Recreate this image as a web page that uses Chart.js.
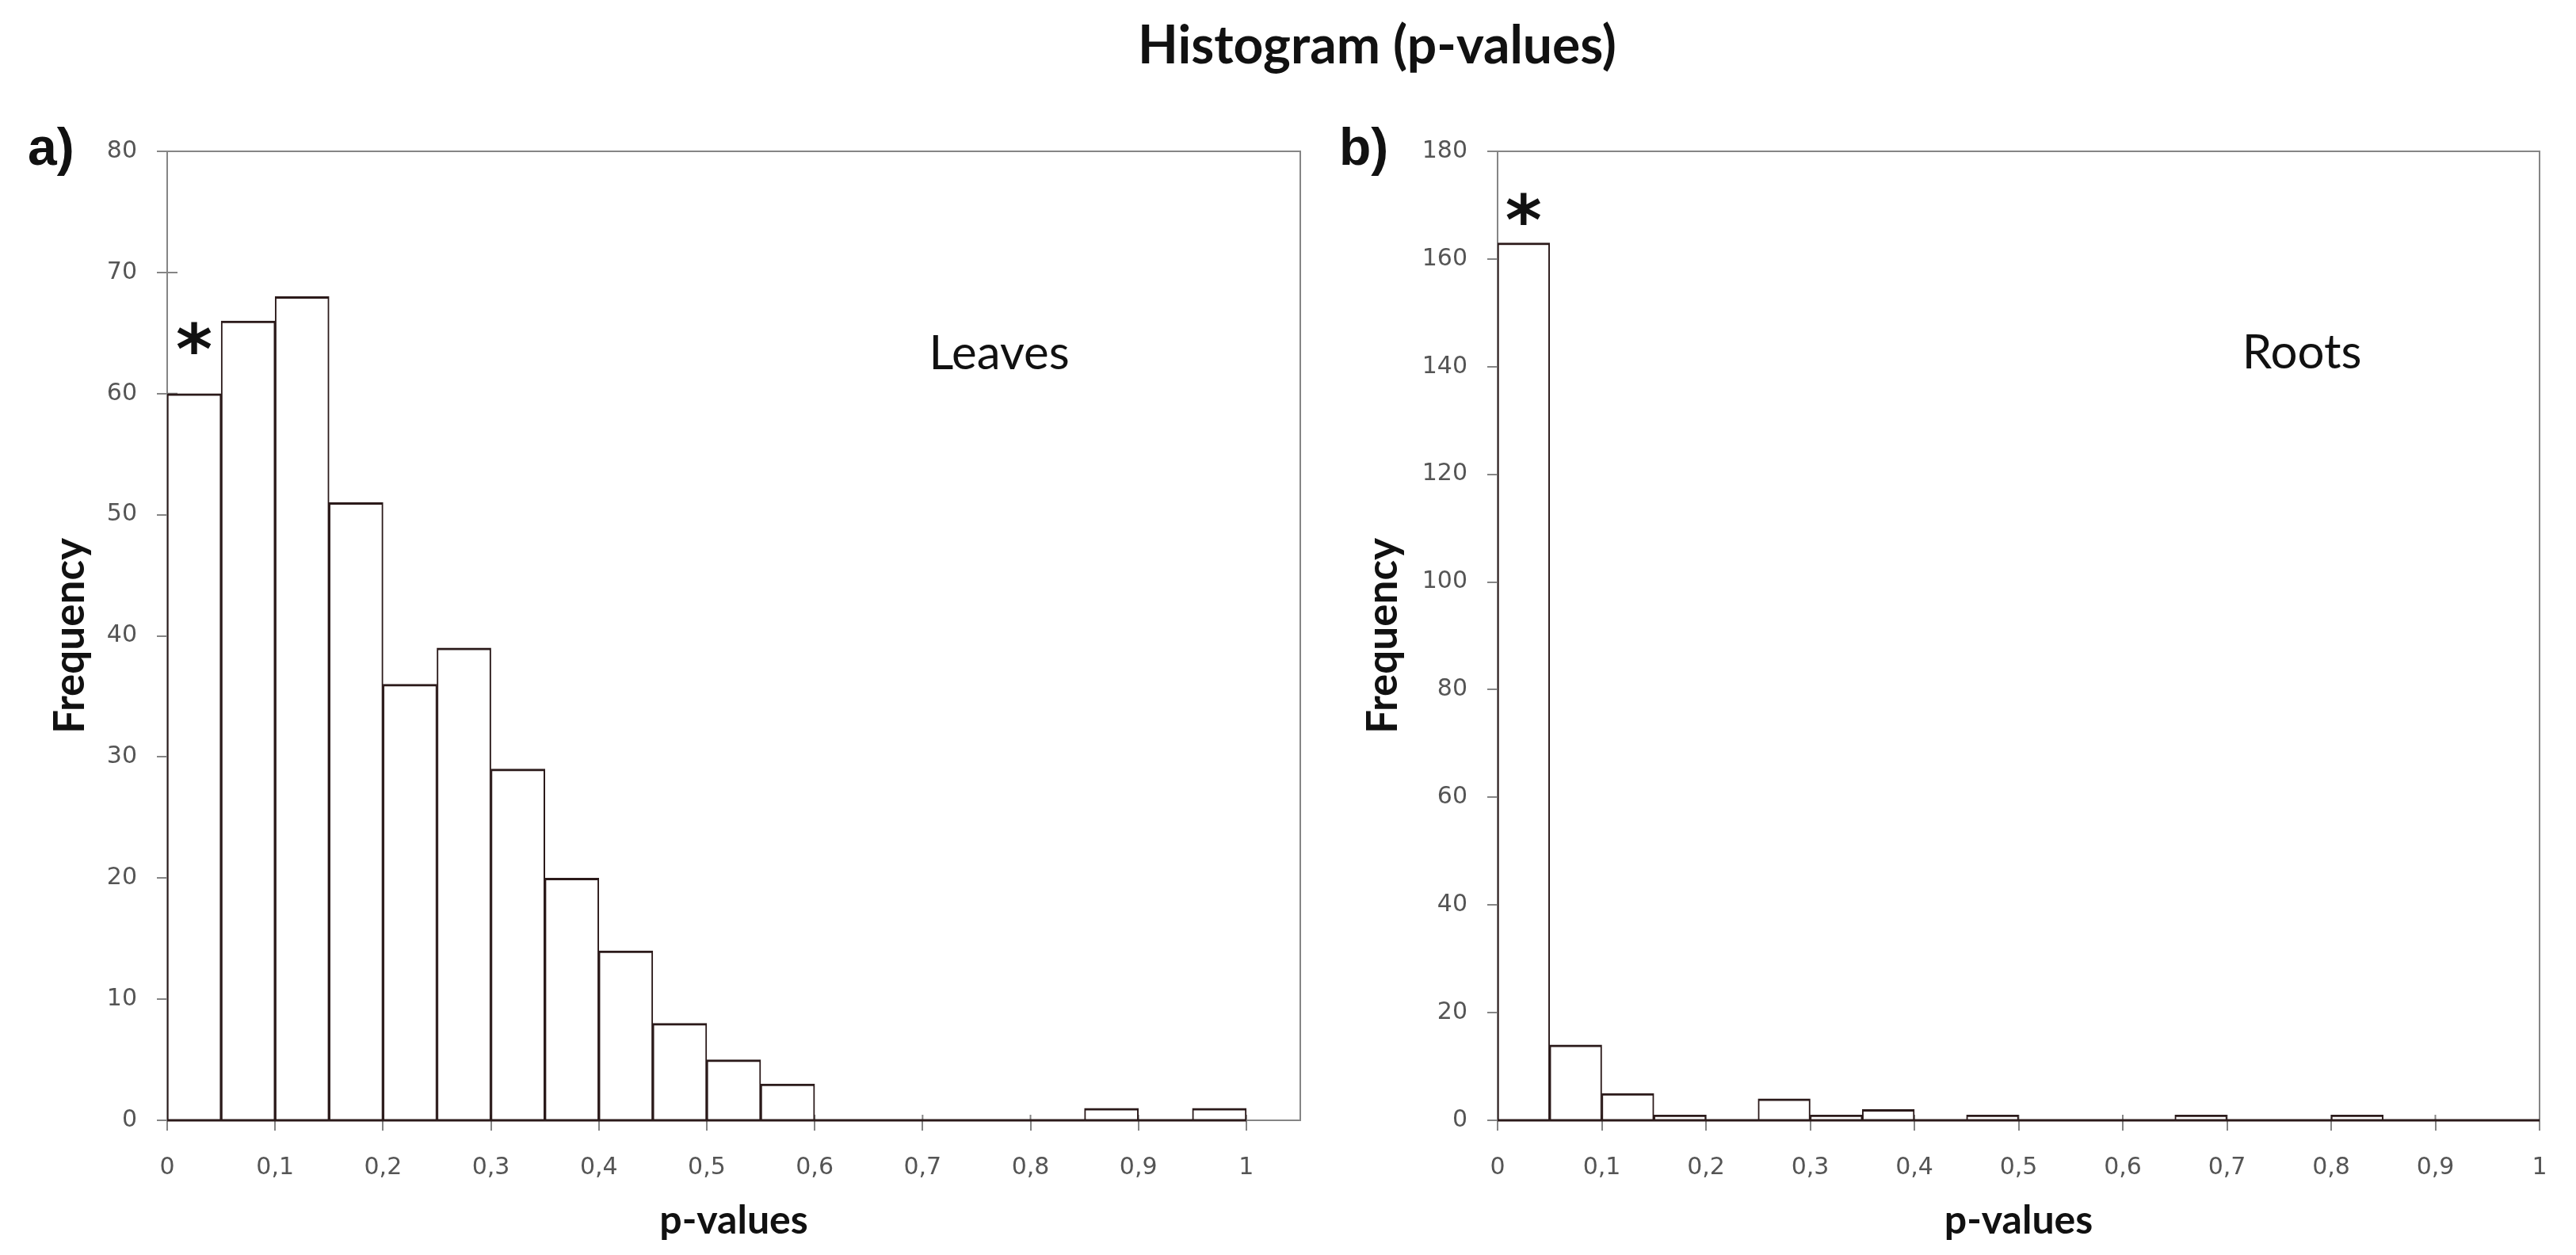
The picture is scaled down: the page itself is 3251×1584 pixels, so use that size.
<!DOCTYPE html>
<html>
<head>
<meta charset="utf-8">
<script src="https://cdn.jsdelivr.net/npm/chart.js@4.4.1/dist/chart.umd.min.js"></script>
<style>
  html, body { margin: 0; padding: 0; background: #fff; }
  #page { position: relative; width: 3251px; height: 1584px; overflow: hidden; background: #fff; }
  .box { position: absolute; top: 0; height: 1584px; }
  #leftBox { left: 0; width: 1660px; }
  #rightBox { left: 1660px; width: 1591px; }
  .mainTitle { position: absolute; left: 1738px; top: 22px; transform: translateX(-50%);
    font-family: Lato, "Open Sans", sans-serif; font-weight: 700; font-size: 66px; line-height: 1;
    white-space: nowrap; color: #111; }
  .panel { position: absolute; top: 152px; font-family: "Liberation Sans", Arial, sans-serif;
    font-weight: 700; font-size: 66px; line-height: 1; color: #111; }
</style>
</head>
<body>
<div id="page">
  <div class="mainTitle">Histogram (p-values)</div>
  <div class="box" id="leftBox"><canvas id="leavesChart"></canvas></div>
  <div class="box" id="rightBox"><canvas id="rootsChart"></canvas></div>
  <div class="panel" style="left:35px">a)</div>
  <div class="panel" style="left:1690px">b)</div>
</div>
<script>
// bins of width 0.05, given by their centres
const binCenters = [0.025, 0.075, 0.125, 0.175, 0.225, 0.275, 0.325, 0.375, 0.425, 0.475,
                    0.525, 0.575, 0.625, 0.675, 0.725, 0.775, 0.825, 0.875, 0.925, 0.975];
const leavesCounts = [60, 66, 68, 51, 36, 39, 29, 20, 14, 8, 5, 3, 0, 0, 0, 0, 0, 1, 0, 1];
const rootsCounts = [163, 14, 5, 1, 0, 4, 1, 2, 0, 1, 0, 0, 0, 1, 0, 0, 1, 0, 0, 0];

const xTickValues = [0, 0.1, 0.2, 0.3, 0.4, 0.5, 0.6, 0.7, 0.8, 0.9, 1];
const xTickLabels = ["0", "0,1", "0,2", "0,3", "0,4", "0,5", "0,6", "0,7", "0,8", "0,9", "1"];
const leavesYTicks = [0, 10, 20, 30, 40, 50, 60, 70, 80];
const rootsYTicks = [0, 20, 40, 60, 80, 100, 120, 140, 160, 180];

const BAR_EDGE = "#2b1a1a";
const AXIS_GREY = "#858585";
const TICK_TEXT = "#555555";

Chart.defaults.font.family = "'DejaVu Sans', Verdana, sans-serif";

// frame, inward tick marks, dark baseline under the bins and the text notes
const histDecor = {
  id: "histDecor",
  beforeDatasetsDraw(chart) {
    const { ctx, chartArea: a } = chart;
    const x = chart.scales.x, y = chart.scales.y;
    ctx.save();
    ctx.strokeStyle = AXIS_GREY;
    ctx.lineWidth = 2;
    ctx.beginPath();
    ctx.moveTo(a.left, a.top);
    ctx.lineTo(a.right, a.top);
    ctx.lineTo(a.right, a.bottom);
    y.ticks.forEach(t => {
      const py = y.getPixelForValue(t.value);
      ctx.moveTo(a.left, py);
      ctx.lineTo(a.left + 13, py);
    });
    x.ticks.forEach(t => {
      const px = x.getPixelForValue(t.value);
      ctx.moveTo(px, a.bottom);
      ctx.lineTo(px, a.bottom - 7);
    });
    ctx.stroke();
    ctx.restore();
  },
  afterDatasetsDraw(chart, args, opts) {
    const { ctx } = chart;
    const x = chart.scales.x, y = chart.scales.y;
    ctx.save();
    ctx.strokeStyle = BAR_EDGE;
    ctx.lineWidth = 3;
    ctx.beginPath();
    ctx.moveTo(x.getPixelForValue(0), y.getPixelForValue(0));
    ctx.lineTo(x.getPixelForValue(1), y.getPixelForValue(0));
    ctx.stroke();

    ctx.fillStyle = "#111";
    ctx.textAlign = "center";
    ctx.textBaseline = "alphabetic";
    (opts.notes || []).forEach(n => {
      ctx.font = n.font;
      const m = ctx.measureText(n.text);
      const cy = y.getPixelForValue(n.y);
      const base = cy + (m.actualBoundingBoxAscent - m.actualBoundingBoxDescent) / 2;
      ctx.fillText(n.text, x.getPixelForValue(n.x), base);
    });
    ctx.restore();
  }
};

function makeHist(canvasId, counts, cfg) {
  const points = binCenters.map((c, i) => ({ x: c, y: counts[i] }));
  return new Chart(document.getElementById(canvasId), {
    type: "bar",
    data: {
      datasets: [{
        data: points,
        backgroundColor: "#ffffff",
        borderColor: BAR_EDGE,
        borderWidth: { top: 3, left: 2, right: 2, bottom: 0 },
        borderSkipped: "start",
        barPercentage: 1,
        categoryPercentage: 1
      }]
    },
    options: {
      responsive: true,
      maintainAspectRatio: false,
      animation: false,
      devicePixelRatio: 1,
      layout: { padding: { top: 191, right: cfg.padRight, left: 0, bottom: 0 } },
      plugins: {
        legend: { display: false },
        tooltip: { enabled: false },
        histDecor: { notes: cfg.notes }
      },
      scales: {
        x: {
          type: "linear",
          min: 0,
          max: cfg.xMax,
          offset: false,
          afterBuildTicks: s => { s.ticks = xTickValues.map(v => ({ value: v })); },
          afterFit: s => { s.height = 170; },
          ticks: {
            callback: (v, i) => xTickLabels[i],
            color: TICK_TEXT,
            font: { size: 30 },
            padding: 29,
            maxRotation: 0,
            autoSkip: false
          },
          grid: { offset: false, drawOnChartArea: false, tickLength: 13, color: AXIS_GREY, lineWidth: 2 },
          border: { color: AXIS_GREY, width: 2 },
          title: {
            display: true,
            text: "p-values",
            color: "#111",
            font: { family: "Lato", weight: "bold", size: 50 },
            padding: { top: 0, bottom: 13 }
          }
        },
        y: {
          type: "linear",
          min: 0,
          max: cfg.yMax,
          afterBuildTicks: s => { s.ticks = cfg.yTicks.map(v => ({ value: v })); },
          afterFit: s => { s.width = cfg.yWidth; },
          ticks: {
            color: TICK_TEXT,
            font: { size: 30 },
            padding: 25,
            autoSkip: false
          },
          grid: { drawOnChartArea: false, tickLength: 13, color: AXIS_GREY, lineWidth: 2 },
          border: { color: AXIS_GREY, width: 2 },
          title: {
            display: true,
            text: "Frequency",
            color: "#111",
            font: { family: "Lato", weight: "bold", size: 53 },
            padding: { top: cfg.yTitlePad, bottom: 0 }
          }
        }
      }
    },
    plugins: [histDecor]
  });
}

makeHist("leavesChart", leavesCounts, {
  xMax: 1.05, yMax: 80, yTicks: leavesYTicks, yWidth: 211, padRight: 19, yTitlePad: 57,
  notes: [
    { text: "Leaves", x: 0.771, y: 63.4, font: "400 60px Lato" },
    { text: "*", x: 0.025, y: 64.6, font: "700 88px 'DejaVu Sans'" }
  ]
});

makeHist("rootsChart", rootsCounts, {
  xMax: 1, yMax: 180, yTicks: rootsYTicks, yWidth: 230, padRight: 46, yTitlePad: 54,
  notes: [
    { text: "Roots", x: 0.772, y: 142.9, font: "400 60px Lato" },
    { text: "*", x: 0.025, y: 169.3, font: "700 88px 'DejaVu Sans'" }
  ]
});
</script>
</body>
</html>
